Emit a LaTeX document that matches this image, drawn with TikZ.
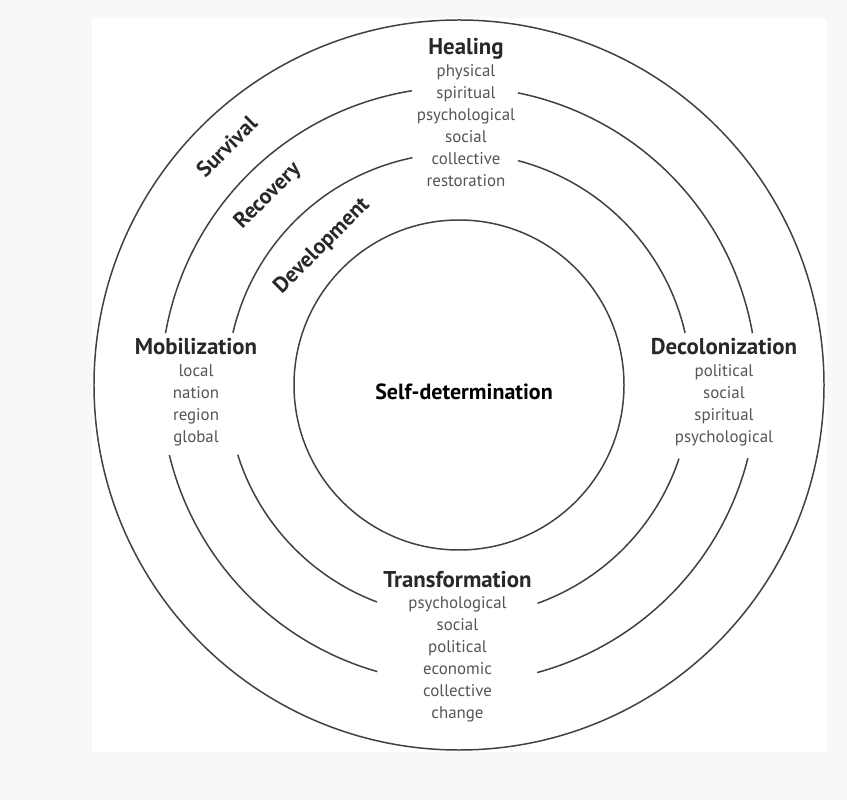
\documentclass[tikz,border=0pt]{standalone}
\usepackage{fontspec}
\setmainfont{PT Sans}
\usetikzlibrary{positioning}

\definecolor{ringgray}{RGB}{65,65,65}
\definecolor{headgray}{RGB}{40,40,40}
\definecolor{itemgray}{RGB}{85,85,85}
\definecolor{pagegray}{RGB}{248,248,248}

\tikzstyle{ring} = [draw=ringgray, line width=0.85pt]
\tikzstyle{head} = [font=\bfseries\fontsize{13}{15}\selectfont, text=headgray,
    inner sep=0pt, text height=9.5pt, text depth=3pt]
\tikzstyle{items} = [font=\fontsize{9.6}{12.5}\selectfont, text=itemgray,
    align=center, inner sep=0pt]
\tikzstyle{stage} = [head, font=\bfseries\fontsize{12.5}{15}\selectfont, rotate=45]

\begin{document}
\begin{tikzpicture}[x=0.02cm, y=0.02cm, node distance=2.2pt]
    % Page and white frame
    \fill[pagegray] (-459,-415) rectangle (388,385);
    \fill[white] (-367,-367) rectangle (368,367);
    \useasboundingbox (-459,-415) rectangle (388,385);

    % Closed circles
    \draw[ring] (0,0) circle (365);
    \draw[ring] (0,0) circle (165);

    % Broken rings
    \foreach \a/\b in {10/78.6, 99.1/170, 193.6/254.1, 285.2/345.8}
        \draw[ring] (\a:298) arc[start angle=\a, end angle=\b, radius=298];
    \foreach \a/\b in {13/75.3, 101.6/167, 197.5/249.3, 289.8/341.5}
        \draw[ring] (\a:232) arc[start angle=\a, end angle=\b, radius=232];

    % Headings
    \node[head, anchor=base] (healing) at (7,330) {Healing};
    \node[head, anchor=base] (mobil) at (-263,30) {Mobilization};
    \node[head, anchor=base] (decol) at (265,30) {Decolonization};
    \node[head, anchor=base] (transf) at (-1.5,-202) {Transformation};
    \node[head, anchor=base, text=black, font=\bfseries\fontsize{12.5}{15}\selectfont]
        (selfdet) at (5,-15) {Self-determination};

    % Item lists
    \node[items, below=of healing] (healinglist)
        {physical\\spiritual\\psychological\\social\\collective\\restoration};
    \node[items, below=of mobil] (mobillist)
        {local\\nation\\region\\global};
    \node[items, below=of decol] (decollist)
        {political\\social\\spiritual\\psychological};
    \node[items, below=of transf] (transflist)
        {psychological\\social\\political\\economic\\collective\\change};

    % Stages along the rings
    \node[stage] (survival) at (-231,237) {Survival};
    \node[stage] (recovery) at (-191,189) {Recovery};
    \node[stage] (develop) at (-137,139) {Development};
\end{tikzpicture}
\end{document}
